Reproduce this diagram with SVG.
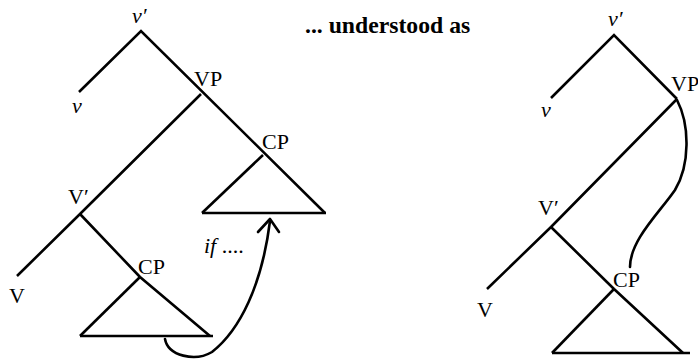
<svg xmlns="http://www.w3.org/2000/svg" width="698" height="359" viewBox="0 0 698 359">
<style>
text{font-family:'Liberation Serif','Times New Roman','DejaVu Serif',serif;fill:#000}
.lbl{font-size:22px}
.it{font-style:italic}
.ttl{font-size:23.7px;font-weight:bold}
.ln{stroke:#000;stroke-width:2.6;fill:none;stroke-linecap:butt;stroke-linejoin:miter}
.cv{stroke:#000;stroke-width:2.6;fill:none;stroke-linecap:round;stroke-linejoin:round}
</style>
<rect width="698" height="359" fill="#fff"/>
<g id="title"><text class="ttl" x="305" y="33">... understood as</text></g>

<g id="connectors">
  <polyline class="ln" points="79,92 141,31 325,213"/>
  <polyline class="ln" points="17,276 80,214 201,94"/>
  <polyline class="ln" points="80,214 140,277 210,336"/>
  <line class="ln" x1="80" y1="336" x2="140" y2="277"/>
  <line class="ln" x1="202" y1="213" x2="263" y2="155"/>
  <path class="cv" d="M165,339 C168,356 195,362 212,352 C240,330 262,285 270,221"/>
  <polyline class="cv" points="258,232 270,219 279,232"/>
  <polyline class="ln" points="551,98 614,35 677,99"/>
  <polyline class="ln" points="487,289 551,227 677,99"/>
  <polyline class="ln" points="551,227 614,289 683,353"/>
  <line class="ln" x1="552" y1="353" x2="614" y2="289"/>
  <path class="cv" d="M677,100 C690,125 690,165 675,190 C660,212 630,240 630,267"/>
</g>

<g id="left-tree">
  <g id="L-vbar"><text class="lbl it" x="132" y="23">v′</text></g>
  <g id="L-v"><text class="lbl it" x="72" y="113">v</text></g>
  <g id="L-VP"><text class="lbl" x="194" y="86">VP</text></g>
  <g id="L-CP1"><text class="lbl" x="262" y="149">CP</text></g>
  <g id="L-tri1"><line class="ln" x1="202" y1="213" x2="326" y2="213"/></g>
  <g id="L-if"><text class="lbl" x="204" y="253"><tspan class="it">if</tspan> ....</text></g>
  <g id="L-Vbar"><text class="lbl" x="68" y="204">V′</text></g>
  <g id="L-V"><text class="lbl" x="9" y="303">V</text></g>
  <g id="L-CP2"><text class="lbl" x="138" y="274">CP</text></g>
  <g id="L-tri2"><line class="ln" x1="80" y1="336" x2="213" y2="336"/></g>
</g>

<g id="right-tree">
  <g id="R-vbar"><text class="lbl it" x="608" y="26">v′</text></g>
  <g id="R-v"><text class="lbl it" x="541" y="117">v</text></g>
  <g id="R-VP"><text class="lbl" x="671" y="91">VP</text></g>
  <g id="R-Vbar"><text class="lbl" x="538" y="215">V′</text></g>
  <g id="R-V"><text class="lbl" x="477" y="317">V</text></g>
  <g id="R-CP"><text class="lbl" x="613" y="287">CP</text></g>
  <g id="R-tri"><line class="ln" x1="552" y1="353" x2="690" y2="353"/></g>
</g>
</svg>
